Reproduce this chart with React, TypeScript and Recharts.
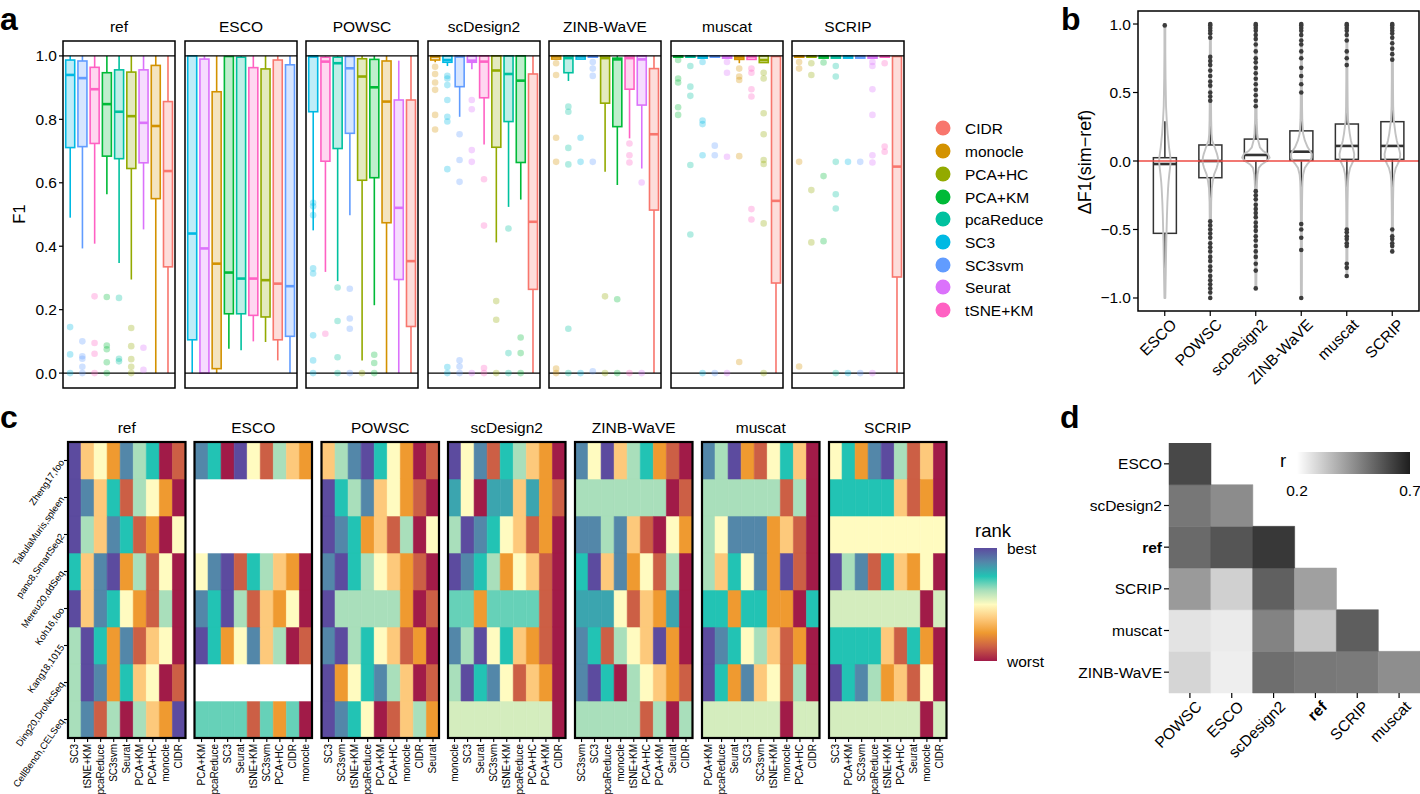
import React from 'react';
import { ComposedChart, BarChart, Bar, Cell, Scatter, XAxis, YAxis, ReferenceLine } from 'recharts';

const FONT = 'Arial, "Liberation Sans", Helvetica, sans-serif';

// ---------- shared categories ----------
const methods = ['CIDR', 'monocle', 'PCA+HC', 'PCA+KM', 'pcaReduce', 'SC3', 'SC3svm', 'Seurat', 'tSNE+KM'];
const methodColors = ['#F8766D', '#D39200', '#93AA00', '#00BA38', '#00C19F', '#00B9E3', '#619CFF', '#DB72FB', '#FF61C3'];
const colorOf = (m: string) => methodColors[methods.indexOf(m)];
const facetNames = ['ref', 'ESCO', 'POWSC', 'scDesign2', 'ZINB-WaVE', 'muscat', 'SCRIP'];

// ---------- panel a: F1 boxplots  [method, lowWhisker, q1, median, q3, highWhisker] ----------
const boxRef = [
  ['SC3', 0.49, 0.711, 0.94, 0.987, 1.0],
  ['SC3svm', 0.393, 0.714, 0.93, 0.984, 1.0],
  ['tSNE+KM', 0.408, 0.724, 0.895, 0.964, 1.0],
  ['PCA+KM', 0.564, 0.684, 0.848, 0.947, 1.0],
  ['pcaReduce', 0.347, 0.676, 0.824, 0.956, 1.0],
  ['PCA+HC', 0.295, 0.645, 0.81, 0.949, 1.0],
  ['Seurat', 0.453, 0.663, 0.789, 0.956, 1.0],
  ['monocle', 0.0, 0.55, 0.779, 0.97, 1.0],
  ['CIDR', 0.0, 0.335, 0.637, 0.856, 1.0],
];
const outRef = [
  ['SC3', [0.145, 0.059, 0]],
  ['SC3svm', [0.1, 0.053, 0.045, 0.02, 0]],
  ['tSNE+KM', [0.242, 0.095, 0.061, 0]],
  ['PCA+KM', [0.24, 0.087, 0.075, 0.034, 0]],
  ['pcaReduce', [0.237, 0.045, 0.037]],
  ['PCA+HC', [0.142, 0.085, 0.044, 0.02, 0]],
  ['Seurat', [0.08, 0.01]],
];
const boxESCO = [
  ['SC3', 0, 0.105, 0.44, 1.0, 1.0],
  ['Seurat', 0, 0, 0.393, 0.99, 1.0],
  ['monocle', 0, 0.014, 0.345, 0.887, 1.0],
  ['PCA+KM', 0.077, 0.187, 0.317, 0.998, 1.0],
  ['pcaReduce', 0.072, 0.187, 0.298, 0.996, 1.0],
  ['tSNE+KM', 0.1, 0.182, 0.298, 0.963, 1.0],
  ['PCA+HC', 0.098, 0.177, 0.293, 0.959, 1.0],
  ['CIDR', 0.04, 0.105, 0.282, 0.987, 1.0],
  ['SC3svm', 0, 0.116, 0.274, 0.972, 1.0],
];
const outESCO: any[] = [];
const boxPOWSC = [
  ['SC3', 0.45, 0.824, 0.998, 1.0, 1.0],
  ['tSNE+KM', 0.319, 0.668, 0.982, 0.996, 1.0],
  ['pcaReduce', 0.29, 0.708, 0.977, 0.996, 1.0],
  ['SC3svm', 0.498, 0.756, 0.961, 0.998, 1.0],
  ['PCA+HC', 0.04, 0.608, 0.935, 0.991, 1.0],
  ['PCA+KM', 0.214, 0.616, 0.901, 0.989, 1.0],
  ['monocle', 0, 0.474, 0.856, 0.984, 1.0],
  ['Seurat', 0, 0.295, 0.521, 0.861, 0.985],
  ['CIDR', 0, 0.147, 0.353, 0.861, 1.0],
];
const outPOWSC = [
  ['SC3', [0.537, 0.526, 0.498, 0.33, 0.314, 0.119, 0.04, 0]],
  ['tSNE+KM', [0.124]],
  ['pcaReduce', [0.27, 0.164, 0.05, 0]],
  ['SC3svm', [0.266, 0.172, 0.14, 0]],
  ['PCA+HC', [0]],
  ['PCA+KM', [0.058, 0.032, 0]],
];
const boxScDesign2 = [
  ['monocle', 0.98, 0.987, 0.998, 1.0, 1.0],
  ['SC3', 0.968, 0.98, 0.987, 1.0, 1.0],
  ['SC3svm', 0.808, 0.903, 0.998, 1.0, 1.0],
  ['Seurat', 0.958, 0.98, 0.985, 1.0, 1.0],
  ['tSNE+KM', 0.721, 0.868, 0.982, 1.0, 1.0],
  ['PCA+HC', 0.412, 0.712, 0.954, 1.0, 1.0],
  ['pcaReduce', 0.524, 0.793, 0.943, 1.0, 1.0],
  ['PCA+KM', 0.547, 0.664, 0.922, 1.0, 1.0],
  ['CIDR', 0, 0.264, 0.477, 0.943, 1.0],
];
const outScDesign2 = [
  ['monocle', [0.966, 0.943, 0.916, 0.893, 0.814, 0.768]],
  ['SC3', [0.937, 0.929, 0.908, 0.861, 0.808, 0.793, 0.643, 0.019, 0]],
  ['SC3svm', [0.753, 0.672, 0.603, 0.04, 0.021, 0]],
  ['Seurat', [0.861, 0.832, 0.703, 0.666, 0]],
  ['tSNE+KM', [0.611, 0.465, 0.016, 0]],
  ['PCA+HC', [0.227, 0.168, 0]],
  ['pcaReduce', [0.456, 0.063, 0]],
  ['PCA+KM', [0.112, 0.063, 0]],
];
const boxZINB = [
  ['monocle', 0.99, 0.99, 0.998, 1.0, 1.0],
  ['pcaReduce', 0.921, 0.947, 0.993, 1.0, 1.0],
  ['SC3', 0.99, 0.99, 0.998, 1.0, 1.0],
  ['SC3svm', 0.996, 0.996, 0.998, 1.0, 1.0],
  ['PCA+HC', 0.635, 0.851, 0.993, 1.0, 1.0],
  ['PCA+KM', 0.593, 0.777, 0.989, 0.993, 1.0],
  ['tSNE+KM', 0.74, 0.895, 0.993, 1.0, 1.0],
  ['Seurat', 0.645, 0.845, 0.989, 1.0, 1.0],
  ['CIDR', 0, 0.514, 0.753, 0.96, 1.0],
];
const outZINB = [
  ['monocle', [0.977, 0.94, 0.742, 0.666, 0.014, 0]],
  ['pcaReduce', [0.84, 0.824, 0.71, 0.658, 0.14, 0]],
  ['SC3', [0.742, 0.666, 0]],
  ['SC3svm', [0.981, 0.96, 0.937, 0.666, 0.006]],
  ['PCA+HC', [0.242, 0]],
  ['PCA+KM', [0.233, 0]],
  ['tSNE+KM', [0.724, 0.687, 0.664, 0]],
  ['Seurat', [0.601, 0]],
];
const boxMuscat = [
  ['PCA+KM', 0.996, 0.996, 0.998, 1.0, 1.0],
  ['pcaReduce', 0.996, 0.996, 0.998, 1.0, 1.0],
  ['SC3', 0.993, 0.993, 0.998, 1.0, 1.0],
  ['SC3svm', 0.996, 0.996, 0.998, 1.0, 1.0],
  ['Seurat', 0.993, 0.993, 0.998, 1.0, 1.0],
  ['monocle', 0.977, 0.989, 0.995, 1.0, 1.0],
  ['tSNE+KM', 0.989, 0.989, 0.998, 1.0, 1.0],
  ['PCA+HC', 0.979, 0.979, 0.987, 1.0, 1.0],
  ['CIDR', 0, 0.284, 0.543, 0.998, 1.0],
];
const outMuscat = [
  ['PCA+KM', [0.987, 0.929, 0.916, 0.838, 0.814]],
  ['pcaReduce', [0.968, 0.903, 0.874, 0.656, 0.437]],
  ['SC3', [0.981, 0.796, 0.785, 0.687, 0]],
  ['SC3svm', [0.717, 0.687, 0]],
  ['Seurat', [0.981, 0.947, 0.682, 0]],
  ['monocle', [0.96, 0.935, 0.924, 0.684, 0.035]],
  ['tSNE+KM', [0.96, 0.947, 0.895, 0.872, 0.517, 0.484]],
  ['PCA+HC', [0.947, 0.929, 0.819, 0.753, 0.672, 0.659, 0.472, 0]],
];
const boxSCRIP = [
  ['monocle', 0.996, 0.996, 0.998, 1.0, 1.0],
  ['PCA+HC', 0.996, 0.996, 0.998, 1.0, 1.0],
  ['PCA+KM', 0.993, 0.993, 0.998, 1.0, 1.0],
  ['pcaReduce', 0.993, 0.993, 0.998, 1.0, 1.0],
  ['SC3', 0.993, 0.993, 0.998, 1.0, 1.0],
  ['SC3svm', 0.993, 0.993, 0.998, 1.0, 1.0],
  ['Seurat', 0.993, 0.993, 0.998, 1.0, 1.0],
  ['tSNE+KM', 0.996, 0.996, 0.998, 1.0, 1.0],
  ['CIDR', 0, 0.303, 0.651, 0.998, 1.0],
];
const outSCRIP = [
  ['monocle', [0.981, 0.96, 0.666, 0.021]],
  ['PCA+HC', [0.977, 0.94, 0.577, 0.412]],
  ['PCA+KM', [0.979, 0.621, 0.416]],
  ['pcaReduce', [0.968, 0.935, 0.666, 0.564, 0.519, 0]],
  ['SC3', [0.666, 0]],
  ['SC3svm', [0.666, 0]],
  ['Seurat', [0.981, 0.968, 0.895, 0.814, 0.687, 0.664, 0]],
  ['tSNE+KM', [0.977, 0.714, 0.698]],
];
const facetBoxes = [boxRef, boxESCO, boxPOWSC, boxScDesign2, boxZINB, boxMuscat, boxSCRIP];
const facetOuts = [outRef, outESCO, outPOWSC, outScDesign2, outZINB, outMuscat, outSCRIP];
const aTicks = [0, 0.2, 0.4, 0.6, 0.8, 1.0];

// ---------- panel b: delta F1 ----------
const deltaSims = ['ESCO', 'POWSC', 'scDesign2', 'ZINB-WaVE', 'muscat', 'SCRIP'];
const dLo = [-0.84, -0.38, -0.21, -0.28, -0.36, -0.4];
const dQ1 = [-0.528, -0.122, 0.0, 0.005, 0.012, 0.012];
const dMed = [-0.022, 0.0, 0.044, 0.068, 0.11, 0.11];
const dQ3 = [0.024, 0.117, 0.16, 0.22, 0.27, 0.287];
const dHi = [0.29, 0.37, 0.34, 0.45, 0.62, 0.68];
const dOutESCO = [0.99];
const dOutPOWSC = [1.0, 0.99, 0.97, 0.95, 0.93, 0.9, 0.76, 0.73, 0.7, 0.66, 0.62, 0.58, 0.55, 0.5, 0.47, 0.44,
  -0.44, -0.47, -0.5, -0.53, -0.56, -0.6, -0.63, -0.66, -0.7, -0.73, -0.77, -0.8, -0.84, -0.87, -0.9, -0.93, -0.96, -1.0];
const dOutScDesign2 = [1.0, 0.99, 0.97, 0.95, 0.92, 0.89, 0.85, 0.8, 0.75, 0.72, 0.68, 0.64, 0.6, 0.56, 0.52, 0.48, 0.44, 0.4,
  -0.22, -0.25, -0.28, -0.32, -0.35, -0.38, -0.41, -0.45, -0.48, -0.51, -0.55, -0.58, -0.62, -0.66, -0.7, -0.75, -0.8, -0.93];
const dOutZINB = [1.0, 0.99, 0.97, 0.95, 0.92, 0.88, 0.85, 0.8, 0.75, 0.68, 0.62, 0.56, 0.5, -0.46, -0.5, -0.56, -0.65, -1.0];
const dOutMuscat = [1.0, 0.99, 0.97, 0.95, 0.92, 0.88, 0.8, 0.75, 0.7, -0.5, -0.52, -0.55, -0.57, -0.6, -0.62, -0.75, -0.78, -0.84];
const dOutSCRIP = [1.0, 0.99, 0.97, 0.95, 0.93, 0.9, 0.86, 0.82, 0.78, 0.74, -0.5, -0.55, -0.57, -0.6, -0.62, -0.66];
const dOuts = [dOutESCO, dOutPOWSC, dOutScDesign2, dOutZINB, dOutMuscat, dOutSCRIP];
// violin half-widths (relative to half box width) read at fixed levels
const violinLevels = [-1, -0.8, -0.6, -0.4, -0.3, -0.2, -0.15, -0.1, -0.05, -0.025, 0, 0.025, 0.05, 0.075, 0.1, 0.15, 0.2, 0.3, 0.4, 0.6, 0.8, 1];
const vESCO = [0.04, 0.08, 0.12, 0.18, 0.22, 0.28, 0.32, 0.38, 0.45, 0.48, 0.5, 0.48, 0.44, 0.4, 0.36, 0.3, 0.24, 0.16, 0.1, 0.06, 0.04, 0.03];
const vPOWSC = [0.05, 0.05, 0.05, 0.06, 0.07, 0.12, 0.2, 0.32, 0.55, 0.63, 0.68, 0.65, 0.58, 0.48, 0.38, 0.15, 0.1, 0.07, 0.06, 0.05, 0.05, 0.05];
const vScDesign2 = [0.05, 0.05, 0.05, 0.05, 0.06, 0.08, 0.1, 0.14, 0.25, 0.5, 0.95, 1.2, 1.05, 0.6, 0.35, 0.2, 0.12, 0.07, 0.06, 0.05, 0.05, 0.05];
const vZINB = [0.05, 0.05, 0.05, 0.05, 0.06, 0.08, 0.1, 0.15, 0.3, 0.5, 0.75, 0.88, 0.9, 0.75, 0.55, 0.3, 0.15, 0.08, 0.06, 0.05, 0.05, 0.05];
const vMuscat = [0.05, 0.05, 0.05, 0.05, 0.06, 0.08, 0.1, 0.15, 0.28, 0.42, 0.55, 0.62, 0.64, 0.58, 0.5, 0.35, 0.25, 0.1, 0.07, 0.05, 0.05, 0.05];
const vSCRIP = [0.05, 0.05, 0.05, 0.05, 0.06, 0.08, 0.1, 0.15, 0.3, 0.45, 0.58, 0.66, 0.68, 0.62, 0.54, 0.38, 0.27, 0.12, 0.07, 0.05, 0.05, 0.05];
const dViolins = [vESCO, vPOWSC, vScDesign2, vZINB, vMuscat, vSCRIP];
const dViolinMin = [-1.0, -1.0, -0.93, -1.0, -0.84, -0.67];

// ---------- panel c: rank heatmaps ----------
const datasets = ['Zheng17,foo', 'TabulaMuris,spleen', 'panc8,SmartSeq2', 'Mereu20,ddSeq', 'Koh16,foo', 'Kang18,1015', 'Ding20,DroNcSeq', 'CellBench,CELSeq'];
const rankStops = ['#5C4B9F', '#5387A9', '#22C3B4', '#A9DFBB', '#FFFBC0', '#FDC97B', '#EF9A30', '#CC5F45', '#A11B48'];
const colsRef = ['SC3', 'tSNE+KM', 'pcaReduce', 'SC3svm', 'Seurat', 'PCA+KM', 'PCA+HC', 'monocle', 'CIDR'];
const rankRef = [
  [1, 6, 5, 7, 2, 4, 3, 9, 8],
  [1, 2, 6, 3, 8, 4, 5, 7, 9],
  [1, 4, 6, 2, 3, 8, 7, 9, 5],
  [3, 6, 2, 1, 7, 4, 8, 5, 9],
  [1, 6, 2, 3, 5, 7, 8, 4, 9],
  [4, 1, 3, 7, 2, 8, 6, 5, 9],
  [4, 1, 2, 7, 3, 6, 5, 9, 8],
  [4, 2, 8, 4, 9, 4, 6, 7, 1],
];
const colsESCO = ['PCA+KM', 'pcaReduce', 'SC3', 'Seurat', 'tSNE+KM', 'SC3svm', 'PCA+HC', 'CIDR', 'monocle'];
const rankESCO = [
  [2, 3, 9, 1, 5, 8, 4, 6, 7],
  null,
  null,
  [5, 2, 1, 8, 3, 4, 6, 7, 9],
  [2, 3, 1, 4, 8, 6, 7, 5, 9],
  [1, 3, 7, 5, 2, 6, 4, 9, 8],
  null,
  [3.5, 3.5, 3.5, 3.5, 8, 3.5, 7, 3.5, 9],
];
const colsPOWSC = ['SC3', 'SC3svm', 'tSNE+KM', 'pcaReduce', 'PCA+KM', 'PCA+HC', 'monocle', 'CIDR', 'Seurat'];
const rankPOWSC = [
  [6, 4, 2, 1, 3, 5, 7, 9, 8],
  [1, 3, 4, 2, 6, 5, 7, 8, 9],
  [1, 2, 3, 7, 6, 8, 4, 9, 5],
  [2, 1, 3, 4, 5, 6, 7, 8, 9],
  [1, 4, 4, 4, 4, 4, 7, 9, 8],
  [2, 1, 4, 3, 5, 6, 8, 7, 9],
  [1, 7, 5, 3, 2, 4, 6, 9, 8],
  [1, 2, 3, 5, 9, 8, 6, 4, 7],
];
const colsScDesign2 = ['monocle', 'SC3', 'Seurat', 'SC3svm', 'tSNE+KM', 'pcaReduce', 'PCA+HC', 'PCA+KM', 'CIDR'];
const rankScDesign2 = [
  [1, 5, 2, 8, 3, 4, 6, 7, 9],
  [2.5, 5, 9, 2.5, 2.5, 6, 2.5, 7, 8],
  [4, 1, 2, 3, 5, 6, 8, 7, 9],
  [1, 2, 3, 4, 7, 5, 6, 8, 9],
  [3.5, 3.5, 7, 3.5, 3.5, 3.5, 3.5, 8, 9],
  [2, 4, 1, 5, 3, 6, 7, 8, 9],
  [4, 1, 3, 2, 5, 8, 6, 7, 9],
  [4.5, 4.5, 4.5, 4.5, 4.5, 4.5, 4.5, 4.5, 9],
];
const colsZINB = ['SC3svm', 'SC3', 'pcaReduce', 'monocle', 'tSNE+KM', 'PCA+HC', 'PCA+KM', 'Seurat', 'CIDR'];
const rankZINB = [
  [2, 5, 1, 6, 4, 3, 7, 8, 9],
  [4, 4, 4, 4, 4, 4, 4, 9, 8],
  [2, 2, 4, 2, 6, 8, 9, 5, 7],
  [3, 1, 6, 2, 7, 5, 8, 4, 9],
  [2.5, 2.5, 2.5, 5, 8, 6, 7, 2.5, 9],
  [2, 3, 8, 4, 5, 6, 1, 7, 9],
  [2, 1, 3, 9, 4, 5, 6, 7, 8],
  [4, 4, 4, 4, 4, 8, 4, 9, 4],
];
const colsMuscat = ['PCA+KM', 'pcaReduce', 'Seurat', 'SC3', 'SC3svm', 'tSNE+KM', 'monocle', 'PCA+HC', 'CIDR'];
const rankMuscat = [
  [2, 4, 1, 7, 8, 5, 3, 6, 9],
  [4, 4, 4, 4, 4, 4, 8, 4, 9],
  [4, 5, 2, 2, 2, 7, 6, 8, 9],
  [4, 6, 3, 5, 2, 7, 1, 8, 9],
  [3, 3, 7, 3, 3, 7, 7, 9, 3],
  [1, 2, 3, 5, 4, 6, 8, 7, 9],
  [1, 3, 7, 2, 6, 5, 8, 4, 9],
  [4.5, 4.5, 4.5, 4.5, 4.5, 4.5, 9, 4.5, 4.5],
];
const colsSCRIP = ['SC3', 'PCA+KM', 'SC3svm', 'pcaReduce', 'tSNE+KM', 'PCA+HC', 'Seurat', 'monocle', 'CIDR'];
const rankSCRIP = [
  [5, 3, 7, 2, 1, 4, 8, 6, 9],
  [3, 3, 3, 3, 3, 6, 8, 7, 9],
  [5, 5, 5, 5, 5, 5, 5, 5, 5],
  [1, 4, 2, 8, 3, 6, 7, 5, 9],
  [4.5, 4.5, 4.5, 4.5, 4.5, 4.5, 4.5, 9, 4.5],
  [3, 3, 3, 3, 6, 8, 3, 7, 9],
  [1, 3, 2, 4, 7, 6, 8, 5, 9],
  [4.5, 4.5, 4.5, 4.5, 4.5, 4.5, 4.5, 9, 4.5],
];
const heatCols = [colsRef, colsESCO, colsPOWSC, colsScDesign2, colsZINB, colsMuscat, colsSCRIP];
const heatRanks = [rankRef, rankESCO, rankPOWSC, rankScDesign2, rankZINB, rankMuscat, rankSCRIP];

// ---------- panel d: correlation between simulators ----------
const corrCols = ['POWSC', 'ESCO', 'scDesign2', 'ref', 'SCRIP', 'muscat'];
const corrRowNames = ['ESCO', 'scDesign2', 'ref', 'SCRIP', 'muscat', 'ZINB-WaVE'];
const rESCO = [0.607];
const rScDesign2 = [0.502, 0.456];
const rRef = [0.531, 0.578, 0.642];
const rSCRIP = [0.424, 0.304, 0.553, 0.411];
const rMuscat = [0.262, 0.244, 0.476, 0.327, 0.558];
const rZINB = [0.293, 0.238, 0.522, 0.5, 0.496, 0.451];
const corrRows = [rESCO, rScDesign2, rRef, rSCRIP, rMuscat, rZINB];

// ---------- layout ----------
const A_MIN = -0.047, A_MAX = 1.047;
const A_TOP = 41, A_H = 347, A_W = 112;
const facetLefts = [63, 185, 306, 428, 549, 671, 792];
const B_MIN = -1.095, B_MAX = 1.095;
const B_LEFT = 1138, B_TOP = 11, B_W = 281, B_H = 300;
const C_TOP = 442, C_H = 296, C_W = 117.5;
const heatLefts = [68, 194.5, 321.5, 448, 575, 702, 829];
const D_LEFT = 1169, D_TOP = 443, D_W = 251, D_H = 250;

const hexToRgb = (h: string) => [1, 3, 5].map((i) => parseInt(h.slice(i, i + 2), 16));
function rankColor(r: number | null | undefined) {
  if (r == null) return '#ffffff';
  const t = Math.min(8, Math.max(0, r - 1));
  const i = Math.min(7, Math.floor(t));
  const f = t - i;
  const a = hexToRgb(rankStops[i]);
  const b = hexToRgb(rankStops[i + 1]);
  const c = a.map((v, k) => Math.round(v + (b[k] - v) * f));
  return `rgb(${c[0]},${c[1]},${c[2]})`;
}
function grayOf(v: number) {
  const t = Math.min(1, Math.max(0, (v - 0.2) / 0.5));
  const g = Math.round(255 - t * 225);
  return `rgb(${g},${g},${g})`;
}
const fmtMinus = (v: number) => (v < 0 ? '\u2212' : '') + Math.abs(v).toFixed(1);

// ---------- shapes ----------
function BoxShape(props: any) {
  const { x, y, width, height, payload } = props;
  const py = (v: number) => y + (height * (A_MAX - v)) / (A_MAX - A_MIN);
  const c = colorOf(payload.method);
  const cx = x + width / 2;
  const top = py(payload.q3);
  const bot = py(payload.q1);
  const med = py(payload.med);
  return (
    <g>
      <line x1={cx} x2={cx} y1={py(payload.hi)} y2={top} stroke={c} strokeWidth={1.6} />
      <line x1={cx} x2={cx} y1={bot} y2={py(payload.lo)} stroke={c} strokeWidth={1.6} />
      <rect x={x} y={top} width={width} height={Math.max(bot - top, 1)} fill={c} fillOpacity={0.25} stroke={c} strokeWidth={1.6} />
      <line x1={x} x2={x + width} y1={med} y2={med} stroke={c} strokeWidth={2.6} />
    </g>
  );
}

const makeFadedDot = (k: number) => (p: any) => {
  if (!Number.isFinite(p.cy) || p.payload.out[k] == null) return <g />;
  return <circle cx={p.cx} cy={p.cy} r={3.3} fill={colorOf(p.payload.method)} fillOpacity={0.3} />;
};

function DeltaShape(props: any) {
  const { x, y, width, height, payload } = props;
  const py = (v: number) => y + (height * (B_MAX - v)) / (B_MAX - B_MIN);
  const cx = x + width / 2;
  const hw = width / 2;
  const pts: [number, number][] = [[payload.vmin, 0.04]];
  violinLevels.forEach((v, k) => {
    if (v > payload.vmin && v < 1) pts.push([v, payload.violin[k]]);
  });
  pts.push([1, 0.04]);
  const right = pts.map(([v, w]) => `${(cx + w * hw).toFixed(2)},${py(v).toFixed(2)}`);
  const left = pts.map(([v, w]) => `${(cx - w * hw).toFixed(2)},${py(v).toFixed(2)}`).reverse();
  const d = `M${right.join('L')}L${left.join('L')}Z`;
  const top = py(payload.q3);
  const bot = py(payload.q1);
  const med = py(payload.med);
  return (
    <g>
      <line x1={cx} x2={cx} y1={py(payload.hi)} y2={top} stroke="#333" strokeWidth={1.5} />
      <line x1={cx} x2={cx} y1={bot} y2={py(payload.lo)} stroke="#333" strokeWidth={1.5} />
      <rect x={x} y={top} width={width} height={Math.max(bot - top, 1)} fill="#fff" stroke="#333" strokeWidth={1.5} />
      <line x1={x} x2={x + width} y1={med} y2={med} stroke="#333" strokeWidth={2.6} />
      <path d={d} fill="none" stroke="#C2C2C2" strokeWidth={1.9} strokeLinejoin="round" />
    </g>
  );
}

const makeDarkDot = (k: number) => (p: any) => {
  if (!Number.isFinite(p.cy) || p.payload.out[k] == null) return <g />;
  return <circle cx={p.cx} cy={p.cy} r={2.3} fill="#3c3c3c" />;
};

const DiagTick = (p: any) => (
  <text transform={`translate(${p.x + 5},${p.y}) rotate(-45)`} textAnchor="end" dy="0.7em" fontSize={15.5} fontFamily={FONT}
    fontWeight={p.payload.value === 'ref' ? 'bold' : 'normal'} fill="#000">
    {p.payload.value}
  </text>
);
const ColTick = (p: any) => (
  <text transform={`translate(${p.x},${p.y}) rotate(-90)`} textAnchor="end" dominantBaseline="central" fontSize={10} fontFamily={FONT} fill="#000">
    {p.payload.value}
  </text>
);
const RowTick = (p: any) => (
  <text transform={`translate(${p.x},${p.y}) rotate(-55)`} textAnchor="end" dy="0.35em" fontSize={9.5} fontFamily={FONT} fill="#000">
    {datasets[datasets.length - 1 - Math.floor(p.payload.value)]}
  </text>
);
const CorrRowTick = (p: any) => {
  const name = corrRowNames[corrRowNames.length - 1 - Math.floor(p.payload.value)];
  return (
    <text x={p.x} y={p.y} textAnchor="end" dy="0.35em" fontSize={15.5} fontFamily={FONT} fill="#000" fontWeight={name === 'ref' ? 'bold' : 'normal'}>
      {name}
    </text>
  );
};

// ---------- charts ----------
function F1Facet({ boxes, outs, left, first }: any) {
  const axisW = first ? 46 : 0;
  const rows = boxes.map(([m, lo, q1, med, q3, hi]: any) => ({
    method: m, lo, q1, med, q3, hi,
    span: [A_MIN, A_MAX],
    out: (outs.find((o: any) => o[0] === m) || [m, []])[1],
  }));
  const nOut = Math.max(0, ...rows.map((r: any) => r.out.length));
  return (
    <div style={{ position: 'absolute', left: left - axisW, top: A_TOP }}>
      <ComposedChart width={axisW + A_W} height={A_H} data={rows} margin={{ top: 0, right: 0, bottom: 0, left: 0 }} barCategoryGap="14%">
        <XAxis dataKey="method" type="category" hide padding={{ left: 1, right: 1 }} />
        <YAxis type="number" domain={[A_MIN, A_MAX]} allowDataOverflow ticks={aTicks} tickFormatter={(v: number) => v.toFixed(1)}
          hide={!first} width={axisW} axisLine={false} tickSize={4} tickLine={{ stroke: '#000', strokeWidth: 1.2 }}
          tick={{ fill: '#000', fontSize: 15.5, fontFamily: FONT }} />
        <ReferenceLine y={0} stroke="#000" strokeWidth={1.2} />
        <ReferenceLine y={1} stroke="#000" strokeWidth={1.2} />
        <Bar dataKey="span" shape={BoxShape} isAnimationActive={false} />
        {Array.from({ length: nOut }, (_, k) => (
          <Scatter key={k} dataKey={(r: any) => r.out[k]} shape={makeFadedDot(k)} isAnimationActive={false} />
        ))}
      </ComposedChart>
    </div>
  );
}

function DeltaChart() {
  const axisW = 52;
  const rows = deltaSims.map((s, i) => ({
    sim: s, lo: dLo[i], q1: dQ1[i], med: dMed[i], q3: dQ3[i], hi: dHi[i],
    span: [B_MIN, B_MAX], out: dOuts[i], violin: dViolins[i], vmin: dViolinMin[i],
  }));
  const nOut = Math.max(...dOuts.map((o) => o.length));
  return (
    <div style={{ position: 'absolute', left: B_LEFT - axisW, top: B_TOP }}>
      <ComposedChart width={axisW + B_W} height={B_H + 95} data={rows} margin={{ top: 0, right: 0, bottom: 0, left: 0 }} barCategoryGap="25%">
        <XAxis dataKey="sim" type="category" interval={0} height={95} padding={{ left: 4, right: 4 }} axisLine={false}
          tickSize={5} tickLine={{ stroke: '#000', strokeWidth: 1.2 }} tick={DiagTick} />
        <YAxis type="number" domain={[B_MIN, B_MAX]} allowDataOverflow ticks={[-1, -0.5, 0, 0.5, 1]} tickFormatter={fmtMinus}
          width={axisW} axisLine={false} tickSize={5} tickLine={{ stroke: '#000', strokeWidth: 1.2 }}
          tick={{ fill: '#000', fontSize: 15.5, fontFamily: FONT }} />
        <ReferenceLine y={0} stroke="#EE4B45" strokeWidth={1.4} />
        {Array.from({ length: nOut }, (_, k) => (
          <Scatter key={k} dataKey={(r: any) => r.out[k]} shape={makeDarkDot(k)} isAnimationActive={false} />
        ))}
        <Bar dataKey="span" shape={DeltaShape} isAnimationActive={false} />
      </ComposedChart>
    </div>
  );
}

function RankHeat({ cols, ranks, left, first }: any) {
  const axisW = first ? 64 : 0;
  const rows = cols.map((m: string) => {
    const r: any = { method: m };
    datasets.forEach((_, i) => { r['d' + i] = 1; });
    return r;
  });
  const stackOrder = datasets.map((_, i) => datasets.length - 1 - i);
  const rowTicks = datasets.map((_, i) => i + 0.5);
  return (
    <div style={{ position: 'absolute', left: left - axisW, top: C_TOP }}>
      <BarChart width={axisW + C_W} height={C_H + 60} data={rows} margin={{ top: 0, right: 0, bottom: 0, left: 0 }} barCategoryGap={0} barGap={0}>
        <XAxis dataKey="method" type="category" interval={0} height={60} axisLine={false} tickSize={4}
          tickLine={{ stroke: '#000', strokeWidth: 1.1 }} tick={ColTick} />
        <YAxis type="number" domain={[0, datasets.length]} ticks={rowTicks} hide={!first} width={axisW} axisLine={false}
          tickSize={4} tickLine={{ stroke: '#000', strokeWidth: 1.1 }} tick={RowTick} />
        {stackOrder.map((i) => (
          <Bar key={i} dataKey={'d' + i} stackId="h" isAnimationActive={false}>
            {cols.map((m: string, j: number) => {
              const c = rankColor(ranks[i] ? ranks[i][j] : null);
              return <Cell key={m} fill={c} stroke={c} strokeWidth={0.6} />;
            })}
          </Bar>
        ))}
      </BarChart>
    </div>
  );
}

function CorrHeat() {
  const axisW = 100;
  const rows = corrCols.map((m) => {
    const r: any = { col: m };
    corrRowNames.forEach((_, i) => { r['r' + i] = 1; });
    return r;
  });
  const stackOrder = corrRowNames.map((_, i) => corrRowNames.length - 1 - i);
  const rowTicks = corrRowNames.map((_, i) => i + 0.5);
  return (
    <div style={{ position: 'absolute', left: D_LEFT - axisW, top: D_TOP }}>
      <BarChart width={axisW + D_W} height={D_H + 100} data={rows} margin={{ top: 0, right: 0, bottom: 0, left: 0 }} barCategoryGap={0} barGap={0}>
        <XAxis dataKey="col" type="category" interval={0} height={100} axisLine={false} tickSize={5}
          tickLine={{ stroke: '#000', strokeWidth: 1.2 }} tick={DiagTick} />
        <YAxis type="number" domain={[0, corrRowNames.length]} ticks={rowTicks} width={axisW} axisLine={false}
          tickSize={5} tickLine={{ stroke: '#000', strokeWidth: 1.2 }} tick={CorrRowTick} />
        {stackOrder.map((i) => (
          <Bar key={i} dataKey={'r' + i} stackId="c" isAnimationActive={false}>
            {corrCols.map((m, j) => {
              const v = corrRows[i][j];
              const c = v == null ? 'none' : grayOf(v);
              return <Cell key={m} fill={c} stroke={c} strokeWidth={0.5} />;
            })}
          </Bar>
        ))}
      </BarChart>
    </div>
  );
}

export default function App() {
  const legendY = [128, 151, 174, 197, 219, 242, 265, 287, 310];
  return (
    <div style={{ position: 'absolute', left: 0, top: 0, width: 1420, height: 794, background: '#fff', overflow: 'hidden', fontFamily: FONT }}>
      {facetBoxes.map((b, i) => (
        <F1Facet key={facetNames[i]} boxes={b} outs={facetOuts[i]} left={facetLefts[i]} first={i === 0} />
      ))}
      <DeltaChart />
      {heatCols.map((c, i) => (
        <RankHeat key={facetNames[i]} cols={c} ranks={heatRanks[i]} left={heatLefts[i]} first={i === 0} />
      ))}
      <CorrHeat />

      <svg width={1420} height={794} style={{ position: 'absolute', left: 0, top: 0, pointerEvents: 'none' }} fontFamily={FONT}>
        <defs>
          <linearGradient id="rankGrad" x1="0" y1="0" x2="0" y2="1">
            {rankStops.map((c, i) => <stop key={c} offset={i / (rankStops.length - 1)} stopColor={c} />)}
          </linearGradient>
          <linearGradient id="rGrad" x1="0" y1="0" x2="1" y2="0">
            <stop offset="0" stopColor="#ffffff" />
            <stop offset="1" stopColor="#1e1e1e" />
          </linearGradient>
        </defs>

        {/* panel letters */}
        <text x={0} y={30} fontSize={32} fontWeight="bold">a</text>
        <text x={1061} y={30} fontSize={32} fontWeight="bold">b</text>
        <text x={0} y={428} fontSize={32} fontWeight="bold">c</text>
        <text x={1060} y={428} fontSize={32} fontWeight="bold">d</text>

        {/* panel a frame */}
        {facetNames.map((n, i) => (
          <g key={n}>
            <text x={facetLefts[i] + A_W / 2} y={31.5} textAnchor="middle" fontSize={15.5}>{n}</text>
            <rect x={facetLefts[i]} y={A_TOP} width={A_W} height={A_H} fill="none" stroke="#000" strokeWidth={1.5} />
          </g>
        ))}
        <text transform="translate(25,214) rotate(-90)" textAnchor="middle" fontSize={16.5}>F1</text>
        {methods.map((m, i) => (
          <g key={m}>
            <circle cx={943} cy={legendY[i]} r={7.5} fill={methodColors[i]} />
            <text x={965} y={legendY[i] + 5.5} fontSize={15.5}>{m}</text>
          </g>
        ))}

        {/* panel b frame */}
        <rect x={B_LEFT} y={B_TOP} width={B_W} height={B_H} fill="none" stroke="#000" strokeWidth={1.5} />
        <text transform={`translate(1091,162) rotate(-90)`} textAnchor="middle" fontSize={18}>{'\u0394F1(sim\u2212ref)'}</text>

        {/* panel c frame */}
        {facetNames.map((n, i) => (
          <g key={n}>
            <text x={heatLefts[i] + C_W / 2} y={433} textAnchor="middle" fontSize={15.5}>{n}</text>
            <rect x={heatLefts[i]} y={C_TOP} width={C_W} height={C_H} fill="none" stroke="#000" strokeWidth={2.2} />
          </g>
        ))}
        <text x={975} y={537} fontSize={18.5}>rank</text>
        <rect x={974} y={548} width={23} height={113} fill="url(#rankGrad)" />
        <text x={1007} y={554} fontSize={15.5}>best</text>
        <text x={1007} y={667} fontSize={15.5}>worst</text>

        {/* panel d legend */}
        <text x={1280} y={467} fontSize={18.5}>r</text>
        <rect x={1297} y={452} width={113} height={22} fill="url(#rGrad)" />
        <text x={1297} y={496} textAnchor="middle" fontSize={15.5}>0.2</text>
        <text x={1410} y={496} textAnchor="middle" fontSize={15.5}>0.7</text>
      </svg>
    </div>
  );
}
